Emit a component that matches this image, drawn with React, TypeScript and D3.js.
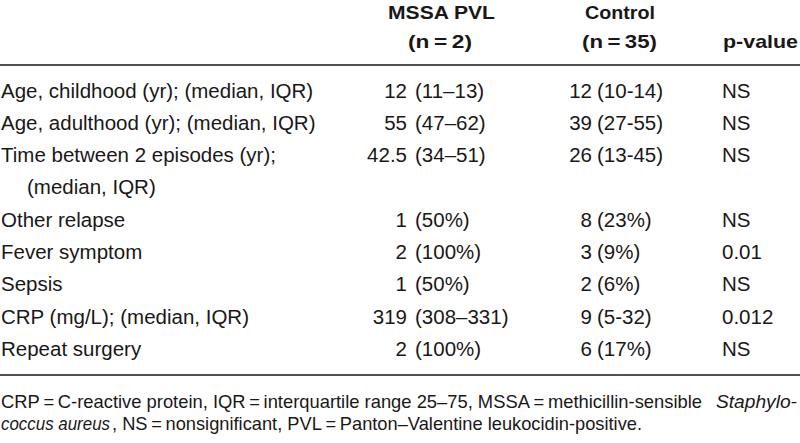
import React from "react";
import * as d3 from "d3";

const colHeaders1 = ["MSSA PVL", "Control"];
const colHeaders2 = ["(n\u2009=\u20092)", "(n\u2009=\u200935)", "p-value"];
const labels = [
  ["Age, childhood (yr); (median, IQR)"],
  ["Age, adulthood (yr); (median, IQR)"],
  ["Time between 2 episodes (yr);", "(median, IQR)"],
  ["Other relapse"],
  ["Fever symptom"],
  ["Sepsis"],
  ["CRP (mg/L); (median, IQR)"],
  ["Repeat surgery"],
];
const mssaN = ["12", "55", "42.5", "1", "2", "1", "319", "2"];
const mssaRange = ["(11–13)", "(47–62)", "(34–51)", "(50%)", "(100%)", "(50%)", "(308–331)", "(100%)"];
const ctrlN = ["12", "39", "26", "8", "3", "2", "9", "6"];
const ctrlRange = ["(10-14)", "(27-55)", "(13-45)", "(23%)", "(9%)", "(6%)", "(5-32)", "(17%)"];
const pValues = ["NS", "NS", "NS", "NS", "0.01", "NS", "0.012", "NS"];
const footnoteParts = [
  { text: "CRP\u2009=\u2009C-reactive protein, IQR\u2009=\u2009interquartile range 25–75, MSSA\u2009=\u2009methicillin-sensible", italic: false, line: 0, x0: 1, x1: 702 },
  { text: "Staphylo-", italic: true, line: 0, x0: 716, x1: 797 },
  { text: "coccus aureus", italic: true, line: 1, x0: 1, x1: 110 },
  { text: ", NS\u2009=\u2009nonsignificant, PVL\u2009=\u2009Panton–Valentine leukocidin-positive.", italic: false, line: 1, x0: 112, x1: 642 },
];

export default function App() {
  const W = 800, H = 443;
  const font = "'Liberation Sans', Arial, sans-serif";
  const fs = 20.5;
  const ink = "#1a1718";
  const slots: number[] = [];
  let s = 0;
  labels.forEach((l) => { slots.push(s); s += l.length; });
  const y = d3.scaleLinear().domain([0, s - 1]).range([97.5, 356]);
  const x = d3.scaleOrdinal<string, number>()
    .domain(["label", "mssaNum", "mssaRange", "ctrlNum", "ctrlRange", "p"])
    .range([1, 407, 415, 592, 597, 722]);
  const footY = d3.scaleLinear().domain([0, 1]).range([408, 430]);
  const head1 = [[388, 107], [585, 70]];
  const head2 = [[408, 64], [582, 75], [723, 75]];
  return (
    <svg width={W} height={H} style={{ position: "absolute", left: 0, top: 0, background: "#fff" }}
      fontFamily={font} fill={ink}>
      <rect width={W} height={H} fill="#fff" />
      {colHeaders1.map((h, i) => (
        <text key={"h1" + i} x={head1[i][0]} y={18.5} fontSize={19} fontWeight="bold"
          textLength={head1[i][1]} lengthAdjust="spacingAndGlyphs">{h}</text>
      ))}
      {colHeaders2.map((h, i) => (
        <text key={"h2" + i} x={head2[i][0]} y={47.5} fontSize={19} fontWeight="bold"
          textLength={head2[i][1]} lengthAdjust="spacingAndGlyphs">{h}</text>
      ))}
      <line x1={0} x2={W} y1={65} y2={65} stroke={ink} strokeWidth={1.6} />
      {labels.map((l, i) => (
        <g key={"r" + i}>
          {l.map((t, j) => (
            <text key={j} x={x("label") + (j > 0 ? 26 : 0)} y={y(slots[i] + j)} fontSize={fs}>{t}</text>
          ))}
          <text x={x("mssaNum")} y={y(slots[i])} fontSize={fs} textAnchor="end">{mssaN[i]}</text>
          <text x={x("mssaRange")} y={y(slots[i])} fontSize={fs}>{mssaRange[i]}</text>
          <text x={x("ctrlNum")} y={y(slots[i])} fontSize={fs} textAnchor="end">{ctrlN[i]}</text>
          <text x={x("ctrlRange")} y={y(slots[i])} fontSize={fs}>{ctrlRange[i]}</text>
          <text x={x("p")} y={y(slots[i])} fontSize={fs}>{pValues[i]}</text>
        </g>
      ))}
      <line x1={0} x2={W} y1={375} y2={375} stroke={ink} strokeWidth={1.6} />
      {footnoteParts.map((p, i) => (
        <text key={"f" + i} x={p.x0} y={footY(p.line)} fontSize={18.5} fontStyle={p.italic ? "italic" : "normal"}
          textLength={p.x1 - p.x0} lengthAdjust="spacingAndGlyphs">{p.text}</text>
      ))}
    </svg>
  );
}
